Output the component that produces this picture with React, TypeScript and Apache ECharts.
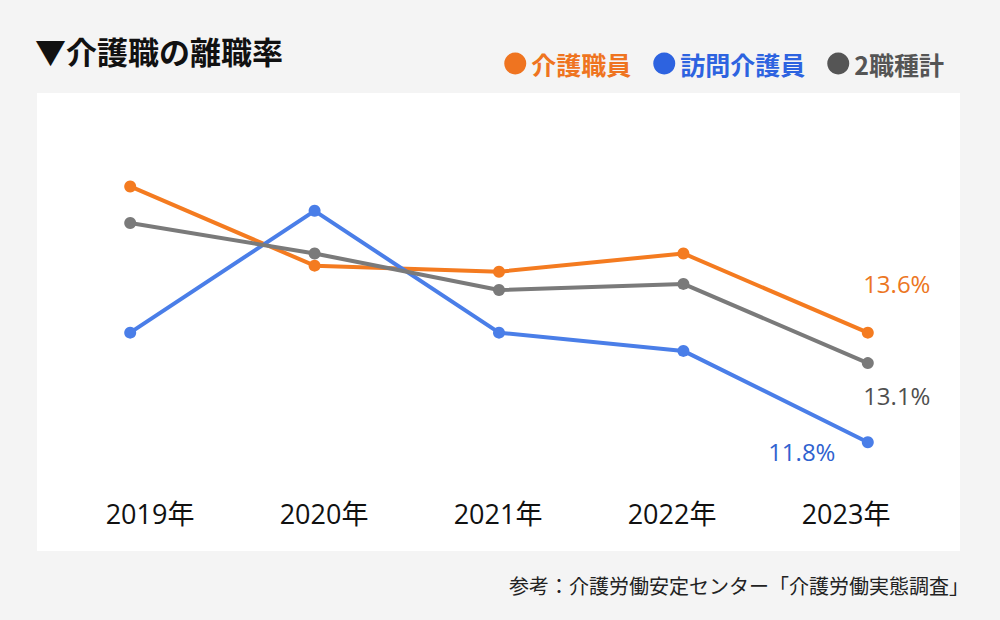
import React, { useEffect, useRef } from "react";
import * as echarts from "echarts";

const years = ["2019年", "2020年", "2021年", "2022年", "2023年"];
const careWorkers = [16.0, 14.7, 14.6, 14.9, 13.6];
const homeHelpers = [13.6, 15.6, 13.6, 13.3, 11.8];
const bothTotal = [15.4, 14.9, 14.3, 14.4, 13.1];

const seriesNames = ["介護職員", "訪問介護員", "2職種計"];
const lineColors = ["#f47b20", "#4a7ee8", "#7a7a7a"];
const legendColors = ["#ef7420", "#2d63e0", "#555555"];
const labelColors = ["#ec7622", "#2f62cf", "#4f4f4f"];
const labelOffsets: [number, number][] = [
  [29, -49],
  [-66, 9],
  [29, 32],
];

const titleText = "▼介護職の離職率";
const sourceText = "参考：介護労働安定センター「介護労働実態調査」";

const CJK = '"Noto Sans CJK JP", "Noto Sans", sans-serif';
const NUM = '"Open Sans", "Noto Sans CJK JP", sans-serif';

export default function App() {
  const ref = useRef<HTMLDivElement>(null);
  useEffect(() => {
    if (!ref.current) return;
    const chart = echarts.init(ref.current, undefined, { renderer: "svg" });
    const datasets = [careWorkers, homeHelpers, bothTotal];
    const series = datasets.map((vals, i) => ({
      name: seriesNames[i],
      type: "line",
      xAxisIndex: 0,
      yAxisIndex: 0,
      data: vals.map((v, j) =>
        j === vals.length - 1
          ? {
              value: v,
              label: {
                show: true,
                position: "inside",
                offset: labelOffsets[i],
                formatter: (p: any) => p.value.toFixed(1) + "%",
                color: labelColors[i],
                fontSize: 24,
                fontFamily: NUM,
              },
            }
          : v
      ),
      symbol: "circle",
      symbolSize: 12,
      showSymbol: true,
      lineStyle: { width: 4, color: lineColors[i] },
      itemStyle: { color: lineColors[i] },
      emphasis: { disabled: true },
    }));
    chart.setOption({
      animation: false,
      backgroundColor: "#f4f4f4",
      title: {
        text: titleText,
        left: 35,
        top: 35,
        padding: 0,
        textStyle: {
          fontSize: 31,
          fontWeight: "bold",
          color: "#111111",
          fontFamily: CJK,
        },
      },
      legend: {
        right: 56,
        top: 51,
        padding: 0,
        itemGap: 22,
        itemWidth: 22,
        itemHeight: 22,
        icon: "circle",
        selectedMode: false,
        data: seriesNames.map((n, i) => ({
          name: n,
          itemStyle: { color: legendColors[i] },
          textStyle: {
            color: legendColors[i],
            fontSize: 25,
            fontWeight: "bold",
            fontFamily: CJK,
          },
        })),
      },
      graphic: [
        {
          type: "rect",
          z: -10,
          shape: { x: 37, y: 93, width: 923, height: 458 },
          style: { fill: "#ffffff" },
        },
        {
          type: "text",
          right: 31,
          top: 575,
          style: {
            text: sourceText,
            fontSize: 20,
            fill: "#222222",
            fontFamily: CJK,
          },
        },
      ],
      grid: [
        { left: 38, right: 40, top: 156, bottom: 129 },
        { left: 63, right: 67, top: 156, bottom: 129 },
      ],
      xAxis: [
        {
          type: "category",
          gridIndex: 0,
          data: years,
          boundaryGap: true,
          axisLine: { show: false },
          axisTick: { show: false },
          axisLabel: { show: false },
        },
        {
          type: "category",
          gridIndex: 1,
          data: years,
          boundaryGap: true,
          axisLine: { show: false },
          axisTick: { show: false },
          axisLabel: {
            margin: 9,
            fontSize: 27,
            color: "#111111",
            fontFamily: NUM,
          },
        },
      ],
      yAxis: [
        {
          type: "value",
          gridIndex: 0,
          min: 11,
          max: 16.5,
          show: false,
          splitLine: { show: false },
        },
        {
          type: "value",
          gridIndex: 1,
          min: 11,
          max: 16.5,
          show: false,
          splitLine: { show: false },
        },
      ],
      series,
    });
    return () => chart.dispose();
  }, []);
  return (
    <div
      ref={ref}
      style={{ position: "fixed", left: 0, top: 0, width: 1000, height: 620 }}
    />
  );
}
